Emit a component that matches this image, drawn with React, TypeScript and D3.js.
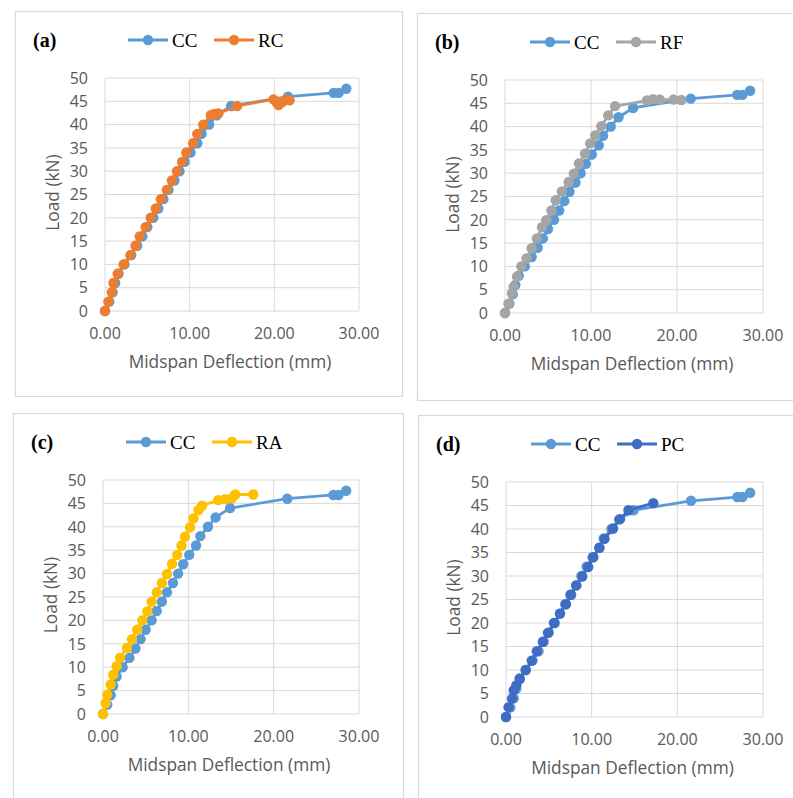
import React from "react";
import * as d3 from "d3";

// ---- data ----
const ccX = [0, 0.5, 0.9, 1.2, 1.6, 2.3, 3.1, 3.8, 4.4, 5.0, 5.7, 6.3, 6.9, 7.5, 8.2, 8.8, 9.4, 10.1, 10.9, 11.4, 12.3, 13.2, 14.9, 21.6, 27.0, 27.6, 28.5];
const ccY = [0, 2, 4, 6, 8, 10, 12, 14, 16, 18, 20, 22, 24, 26, 28, 30, 32, 34, 36, 38, 40, 42, 44, 46, 46.8, 46.8, 47.7];

const rcX = [0, 0.4, 0.8, 1.0, 1.5, 2.2, 3.0, 3.6, 4.1, 4.8, 5.4, 6.0, 6.6, 7.3, 7.9, 8.5, 9.1, 9.6, 10.4, 10.9, 11.6, 12.5, 12.9, 13.4, 15.6, 19.9, 20.3, 20.5, 20.9, 21.4, 21.8];
const rcY = [0, 2, 4, 6, 8, 10, 12, 14, 16, 18, 20, 22, 24, 26, 28, 30, 32, 34, 36, 38, 40, 42, 42.3, 42.4, 44, 45.4, 44.7, 44.2, 44.8, 45.4, 45.2];

const rfX = [0, 0.4, 0.8, 1.0, 1.4, 1.9, 2.5, 3.1, 3.7, 4.3, 4.8, 5.4, 5.9, 6.6, 7.4, 8.0, 8.6, 9.3, 9.9, 10.5, 11.2, 12.0, 12.8, 16.5, 17.2, 18.0, 19.6, 20.5];
const rfY = [0, 2, 4.2, 5.6, 7.8, 10, 11.7, 13.9, 16, 18.4, 19.9, 22, 24.2, 26.1, 28.1, 29.9, 32.1, 34.2, 36.4, 38.1, 40.1, 42.4, 44.4, 45.6, 45.9, 45.8, 45.8, 45.7];

const raX = [0, 0.3, 0.5, 0.9, 1.2, 1.6, 2.0, 2.8, 3.4, 4.0, 4.6, 5.2, 5.7, 6.3, 6.9, 7.5, 8.1, 8.7, 9.2, 9.6, 10.2, 10.6, 11.2, 11.6, 13.5, 14.3, 15.1, 15.5, 17.6];
const raY = [0, 2.3, 4.1, 6.3, 8.4, 10.2, 12, 14.1, 16, 18, 20, 21.9, 24, 26, 28, 29.9, 32.1, 34, 36, 37.9, 39.9, 41.8, 43.6, 44.5, 45.7, 45.9, 46.1, 46.9, 46.9];

const pcX = [0, 0.3, 0.7, 0.9, 1.2, 1.6, 2.3, 3.0, 3.6, 4.3, 4.9, 5.6, 6.3, 7.0, 7.6, 8.2, 8.9, 9.6, 10.2, 10.9, 11.5, 12.5, 13.3, 14.3, 17.2];
const pcY = [0, 2.1, 3.9, 5.7, 6.7, 8.2, 10, 12, 14, 16, 17.9, 20, 22, 24, 26, 28, 29.9, 31.9, 34, 36, 37.9, 40.1, 42.1, 44, 45.5];

const xTicks = [0, 10, 20, 30];
const yTicks = [0, 5, 10, 15, 20, 25, 30, 35, 40, 45, 50];
const panelLabels = ["(a)", "(b)", "(c)", "(d)"];
const seriesNames = ["RC", "RF", "RA", "PC"];
const xTitle = "Midspan Deflection (mm)";
const yTitle = "Load (kN)";

// ---- layout & styles ----
const seriesData = [
  { x: rcX, y: rcY },
  { x: rfX, y: rfY },
  { x: raX, y: raY },
  { x: pcX, y: pcY },
];
const seriesColors = ["#ED7D31", "#A5A5A5", "#FFC000", "#3F6DC4"];
const ccColor = "#5B9BD5";

const layouts = [
  { box: [15, 11, 402, 396], plot: [105, 78, 359, 311] },
  { box: [417, 13, 800, 400], plot: [505, 80, 763, 313] },
  { box: [13, 413, 403, 805], plot: [103, 480, 359, 714] },
  { box: [418, 415, 800, 805], plot: [506, 482, 763, 717] },
];

const toPts = (xs: number[], ys: number[]) => xs.map((v, i) => [v, ys[i]] as [number, number]);

function Panel({ idx }: { idx: number }) {
  const L = layouts[idx];
  const [px0, py0, px1, py1] = L.plot;
  const [bx0, by0, bx1, by1] = L.box;
  const x = d3.scaleLinear().domain([0, 30]).range([px0, px1]);
  const y = d3.scaleLinear().domain([0, 50]).range([py1, py0]);
  const line = d3.line<[number, number]>().x((d) => x(d[0])).y((d) => y(d[1]));
  const series = [
    { pts: toPts(ccX, ccY), color: ccColor },
    { pts: toPts(seriesData[idx].x, seriesData[idx].y), color: seriesColors[idx] },
  ];
  const legY = by0 + 29;
  const legX = bx0 + 113;
  const tickFont = "'Open Sans', 'DejaVu Sans', sans-serif";
  const serif = "'Liberation Serif', 'DejaVu Serif', serif";
  return (
    <g>
      <rect x={bx0 + 0.5} y={by0 + 0.5} width={bx1 - bx0} height={by1 - by0} fill="#fff" stroke="#d9d9d9" strokeWidth={1.2} />
      {yTicks.map((t) => (
        <line key={"h" + t} x1={px0} x2={px1} y1={y(t)} y2={y(t)} stroke="#d9d9d9" strokeWidth={1} />
      ))}
      {xTicks.map((t) => (
        <line key={"v" + t} x1={x(t)} x2={x(t)} y1={py0} y2={py1} stroke="#d9d9d9" strokeWidth={1} />
      ))}
      {yTicks.map((t) => (
        <text key={"yl" + t} x={px0 - 17} y={y(t)} dy="0.36em" textAnchor="end" fontFamily={tickFont} fontSize={16} fill="#595959">
          {t}
        </text>
      ))}
      {xTicks.map((t) => (
        <text key={"xl" + t} x={x(t)} y={py1 + 28} textAnchor="middle" fontFamily={tickFont} fontSize={16} fill="#595959">
          {d3.format(".2f")(t)}
        </text>
      ))}
      <text x={(px0 + px1) / 2 - 2} y={py1 + 57} textAnchor="middle" fontFamily={tickFont} fontSize={17.3} fill="#595959">
        {xTitle}
      </text>
      <text transform={`translate(${px0 - 46},${(py0 + py1) / 2 - 2}) rotate(-90)`} textAnchor="middle" fontFamily={tickFont} fontSize={17.3} fill="#595959">
        {yTitle}
      </text>
      {series.map((s, i) => (
        <g key={"s" + i}>
          <path d={line(s.pts) || ""} fill="none" stroke={s.color} strokeWidth={2.8} strokeLinejoin="round" />
          {s.pts.map((p, j) => (
            <circle key={j} cx={x(p[0])} cy={y(p[1])} r={5.2} fill={s.color} />
          ))}
        </g>
      ))}
      <text x={bx0 + 18} y={legY + 7} fontFamily={serif} fontWeight="bold" fontSize={20} fill="#000">
        {panelLabels[idx]}
      </text>
      {[{ name: "CC", color: ccColor }, { name: seriesNames[idx], color: seriesColors[idx] }].map((e, i) => {
        const lx = legX + i * 86;
        return (
          <g key={"lg" + i}>
            <line x1={lx} x2={lx + 40} y1={legY} y2={legY} stroke={e.color} strokeWidth={2.8} />
            <circle cx={lx + 20} cy={legY} r={5.2} fill={e.color} />
            <text x={lx + 44} y={legY + 6.5} fontFamily={serif} fontSize={19} fill="#000">
              {e.name}
            </text>
          </g>
        );
      })}
    </g>
  );
}

export default function App() {
  return (
    <svg width={793} height={798} style={{ position: "absolute", left: 0, top: 0, background: "#fff" }}>
      <rect x={0} y={0} width={793} height={798} fill="#fff" />
      {[0, 1, 2, 3].map((i) => (
        <Panel key={i} idx={i} />
      ))}
    </svg>
  );
}
